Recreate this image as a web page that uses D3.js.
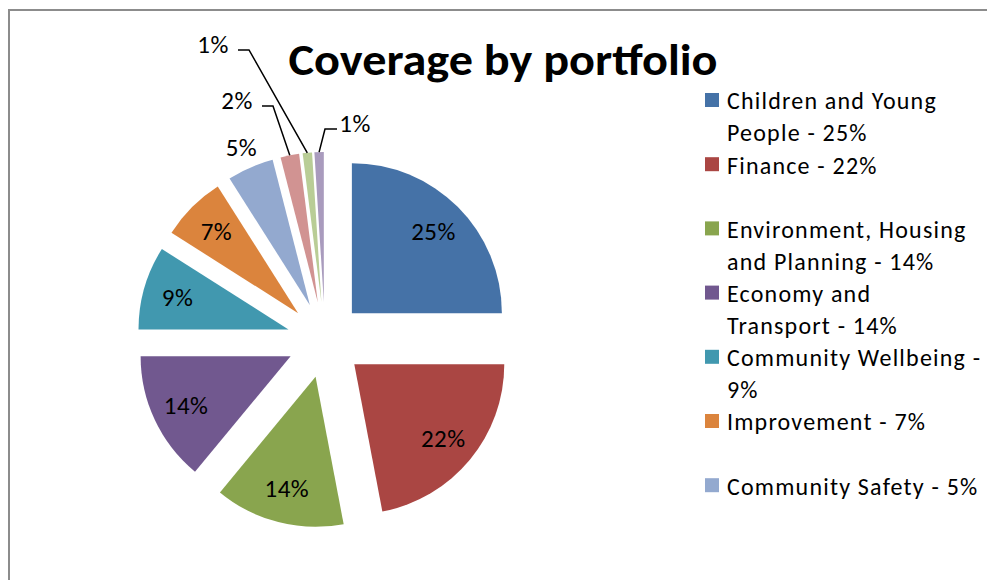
<!DOCTYPE html>
<html>
<head>
<meta charset="utf-8">
<script src="https://cdnjs.cloudflare.com/ajax/libs/d3/7.8.5/d3.min.js"></script>
<style>
  body { margin: 0; background: #fff; }
  text { font-family: Calibri, Carlito, Lato, sans-serif; fill: #000; }
</style>
</head>
<body>
<div id="chart"></div>
<script>
// Data (starts at 12 o'clock, clockwise)
const categories = ["Children and Young People", "Finance", "Environment, Housing and Planning",
  "Economy and Transport", "Community Wellbeing", "Improvement", "Community Safety",
  "", "", ""]; // last three legend entries are cut off in the source
const values = [25, 22, 14, 14, 9, 7, 5, 2, 1, 1];
const colors = ["#4572A7", "#AA4643", "#89A54E", "#71588F", "#4198AF",
  "#DB843D", "#93A9CF", "#D19392", "#B9CD96", "#A99BBD"];
const legendBreak = [3, 0, 2, 2, 3, 0, 0]; // words on first legend line
const legendShown = 7;

// Layout
const width = 987, height = 580;
const center = { x: 325, y: 340 };
const radius = 150;
const explode = 38;
const fontSize = 25;
// outside callouts for the tiny slices: label centre relative to pie centre
const callouts = { 7: { dx: -88, dy: -240 }, 8: { dx: -112, dy: -296 }, 9: { dx: 30, dy: -217 } };

const svg = d3.select("#chart").append("svg")
  .attr("width", width)
  .attr("height", height);

// chart frame (runs off the right and bottom edges)
svg.append("rect")
  .attr("x", 9).attr("y", 10)
  .attr("width", 1200).attr("height", 800)
  .attr("fill", "none")
  .attr("stroke", "#8c8c8c")
  .attr("stroke-width", 2);

svg.append("text")
  .attr("x", 503).attr("y", 75)
  .attr("text-anchor", "middle")
  .attr("textLength", 429)
  .attr("lengthAdjust", "spacingAndGlyphs")
  .style("font-size", "45px")
  .style("font-weight", "bold")
  .text("Coverage by portfolio");

const pie = d3.pie().sort(null).value(d => d)(values);
const arc = d3.arc().innerRadius(0).outerRadius(radius);
const labelArc = d3.arc().innerRadius(radius * 0.77).outerRadius(radius * 0.77);
const edgeArc = d3.arc().innerRadius(radius).outerRadius(radius);
const outArc = d3.arc().innerRadius(radius * 1.15).outerRadius(radius * 1.15);

function mid(d) { return (d.startAngle + d.endAngle) / 2; }
function shift(d) {
  const a = mid(d);
  return [explode * Math.sin(a), -explode * Math.cos(a)];
}

const g = svg.append("g").attr("transform", `translate(${center.x},${center.y})`);

const slices = g.selectAll("g.slice")
  .data(pie)
  .enter()
  .append("g")
  .attr("class", "slice")
  .attr("transform", d => `translate(${shift(d)})`);

slices.append("path")
  .attr("d", arc)
  .attr("fill", (d, i) => colors[i]);

// inside labels for the big slices
slices.filter(d => d.value > 5)
  .append("text")
  .attr("transform", d => `translate(${labelArc.centroid(d)})`)
  .attr("text-anchor", "middle")
  .attr("dy", "0.35em")
  .style("font-size", fontSize + "px")
  .style("letter-spacing", "0.5px")
  .text(d => d.value + "%");

// 5% label sits just outside, no leader
slices.filter(d => d.value === 5)
  .append("text")
  .attr("transform", d => `translate(${outArc.centroid(d)})`)
  .attr("text-anchor", "middle")
  .attr("dy", "0.35em")
  .style("font-size", fontSize + "px")
  .style("letter-spacing", "0.5px")
  .text(d => d.value + "%");

// tiny slices: moved labels with leader lines
pie.forEach((d, i) => {
  const c = callouts[i];
  if (!c) return;
  const s = shift(d);
  const e = edgeArc.centroid(d);
  const end = [e[0] + s[0], e[1] + s[1]];
  const left = c.dx < end[0];
  const x0 = left ? c.dx + 25 : c.dx - 18;
  const x1 = left ? x0 + 11 : x0 - 12;
  const y0 = c.dy + 6;
  g.append("path")
    .attr("d", d3.line()([[x0, y0], [x1, y0], end]))
    .attr("fill", "none")
    .attr("stroke", "#000")
    .attr("stroke-width", 1.5);
  g.append("text")
    .attr("x", c.dx).attr("y", c.dy)
    .attr("text-anchor", "middle")
    .attr("dy", "0.35em")
    .style("font-size", fontSize + "px")
    .style("letter-spacing", "0.5px")
    .text(d.value + "%");
});

// Legend: two line slots per entry, clipped after seven entries
const legend = svg.append("g").attr("transform", "translate(705,101)");
const items = legend.selectAll("g")
  .data(d3.range(legendShown))
  .enter()
  .append("g")
  .attr("transform", i => `translate(0,${i * 64.2})`);

items.append("rect")
  .attr("x", 0).attr("y", -8)
  .attr("width", 14).attr("height", 14)
  .attr("fill", i => colors[i]);

items.each(function(i) {
  const words = (categories[i] + " - " + values[i] + "%").split(" ");
  const n = legendBreak[i];
  const lines = n ? [words.slice(0, n).join(" "), words.slice(n).join(" ")] : [words.join(" ")];
  d3.select(this).selectAll("text")
    .data(lines)
    .enter()
    .append("text")
    .attr("x", 22)
    .attr("y", (l, j) => j * 32)
    .attr("dy", "0.35em")
    .style("font-size", "24px")
    .style("letter-spacing", "1.2px")
    .text(l => l);
});
</script>
</body>
</html>
